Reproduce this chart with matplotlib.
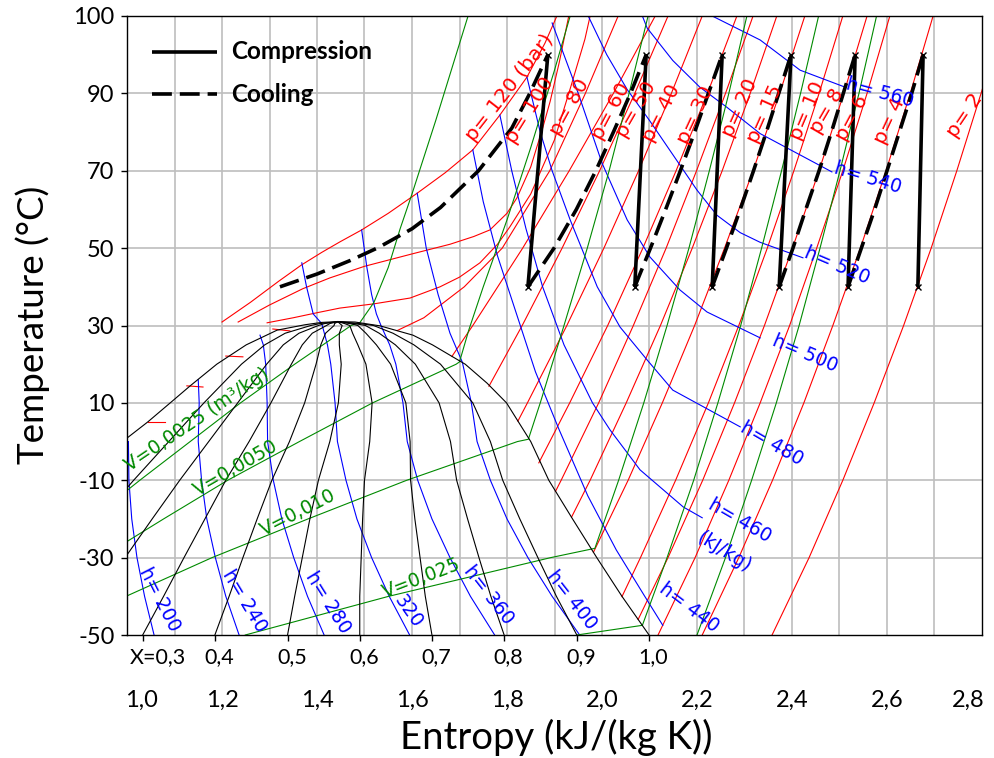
import matplotlib
matplotlib.use("Agg")
import matplotlib.pyplot as plt
from matplotlib.transforms import blended_transform_factory

# ---------------- saturation dome (entropy kJ/(kg K), temperature degC)
dome_s = [1.0, 1.044, 1.091, 1.133, 1.189, 1.251, 1.316, 1.375, 1.41, 1.444,
          1.48, 1.533, 1.602, 1.643, 1.712, 1.758, 1.799, 1.850, 1.888, 1.938,
          1.989, 2.042, 2.099]
dome_T = [0.9, 5.1, 10, 14.4, 20, 25, 28.8, 30.2, 30.8, 31.0,
          30.9, 29.9, 27.5, 25, 20, 15.1, 10, 0, -10, -20,
          -30, -40, -50]

# ---------------- constant quality lines
quality_T = [-50, -40, -30, -20, -10, 0, 10, 20, 25, 28, 30, 30.5, 31]
x01_s = [0.728, 0.801, 0.872, 0.943, 1.014, 1.088, 1.162, 1.241, 1.290, 1.333, 1.387, 1.406, 1.444]
x02_s = [0.881, 0.939, 0.996, 1.053, 1.111, 1.172, 1.233, 1.294, 1.329, 1.362, 1.403, 1.416, 1.444]
x03_s = [1.033, 1.077, 1.120, 1.164, 1.208, 1.257, 1.303, 1.346, 1.369, 1.390, 1.420, 1.427, 1.444]
x04_s = [1.185, 1.215, 1.244, 1.274, 1.305, 1.342, 1.374, 1.398, 1.408, 1.418, 1.436, 1.437, 1.444]
x05_s = [1.338, 1.353, 1.369, 1.385, 1.403, 1.427, 1.445, 1.451, 1.447, 1.447, 1.453, 1.448, 1.444]
x06_s = [1.490, 1.490, 1.493, 1.496, 1.500, 1.511, 1.516, 1.503, 1.486, 1.475, 1.469, 1.458, 1.444]
x07_s = [1.642, 1.628, 1.617, 1.606, 1.597, 1.596, 1.587, 1.555, 1.525, 1.503, 1.486, 1.469, 1.444]
x08_s = [1.794, 1.766, 1.741, 1.717, 1.694, 1.681, 1.657, 1.607, 1.565, 1.531, 1.502, 1.479, 1.444]
x09_s = [1.947, 1.904, 1.865, 1.827, 1.791, 1.765, 1.728, 1.660, 1.604, 1.560, 1.519, 1.490, 1.444]
quality_labels = ["X=0,3", "0,4", "0,5", "0,6", "0,7", "0,8", "0,9", "1,0"]

# ---------------- isobars (bar)
p2_s = [2.358, 2.436, 2.507, 2.573, 2.635, 2.693, 2.747, 2.798, 2.823]
p2_T = [-50, -30, -10, 10, 30, 50, 70, 90, 100]
p4_s = [2.211, 2.288, 2.359, 2.425, 2.486, 2.544, 2.598, 2.649, 2.697]
p4_T = [-50, -30, -10, 10, 30, 50, 70, 90, 110]
p6_s = [2.118, 2.196, 2.267, 2.333, 2.395, 2.452, 2.507, 2.558, 2.606]
p6_T = [-50, -30, -10, 10, 30, 50, 70, 90, 110]
p8_s = [2.076, 2.139, 2.212, 2.279, 2.342, 2.401, 2.457, 2.509, 2.558]
p8_T = [-46, -30, -10, 10, 30, 50, 70, 90, 110]
p10_s = [2.042, 2.081, 2.155, 2.224, 2.288, 2.348, 2.404, 2.457, 2.507]
p10_T = [-40.1, -30, -10, 10, 30, 50, 70, 90, 110]
p15_s = [1.982, 2.055, 2.127, 2.195, 2.258, 2.318, 2.374, 2.427]
p15_T = [-28.6, -10, 10, 30, 50, 70, 90, 110]
p20_s = [1.936, 1.975, 2.051, 2.123, 2.190, 2.253, 2.312, 2.368]
p20_T = [-19.5, -10, 10, 30, 50, 70, 90, 110]
p25_s = [1.902, 1.914, 1.993, 2.066, 2.135, 2.199, 2.260, 2.318]
p25_T = [-12.9, -10, 10, 30, 50, 70, 90, 110]
p30_s = [1.867, 1.932, 2.012, 2.086, 2.156, 2.222, 2.284]
p30_T = [-5.5, 10, 30, 50, 70, 90, 110]
p40_s = [1.823, 1.843, 1.926, 2.004, 2.077, 2.146, 2.211]
p40_T = [5.3, 10, 30, 50, 70, 90, 110]
p50_s = [1.762, 1.832, 1.916, 1.995, 2.069, 2.139]
p50_T = [14.3, 30, 50, 70, 90, 110]
p60_s = [1.684, 1.728, 1.833, 1.931, 2.024, 2.112]
p60_T = [22, 30, 50, 70, 90, 110]
p70_s = [1.569, 1.625, 1.71, 1.79, 1.89, 1.965, 2.034]
p70_T = [28.7, 32, 40, 50, 70, 90, 110]
p80_s = [1.295, 1.35, 1.40, 1.448, 1.52, 1.596, 1.659, 1.70, 1.743, 1.78, 1.806, 1.85, 1.9, 1.935, 1.964, 1.975]
p80_T = [30.7, 32.0, 33.3, 34.5, 35.6, 37.1, 40, 42.5, 46.2, 51, 55.5, 64, 78, 92, 104, 110]
p100_s = [1.234, 1.3, 1.37, 1.427, 1.5, 1.6, 1.68, 1.73, 1.764, 1.80, 1.821, 1.85, 1.875, 1.891, 1.91, 1.93]
p100_T = [30.9, 35.3, 39.5, 42.3, 45.3, 48.5, 51, 53, 54.7, 59, 63, 71, 81, 88, 98, 110]
p120_s = [1.2, 1.26, 1.32, 1.368, 1.41, 1.448, 1.494, 1.55, 1.611, 1.67, 1.728, 1.785, 1.842, 1.88, 1.905]
p120_T = [30.9, 36, 41.5, 45.7, 48.9, 51.6, 54.7, 59, 64.2, 69.5, 75.4, 84.4, 94.2, 103, 110]
# liquid-side stubs of the subcritical isobars 40, 50, 60, 70 bar
liq40_s, liq40_T = [1.044, 1.080], [5.1, 5.1]
liq50_s, liq50_T = [1.126, 1.160], [14.4, 14.1]
liq60_s, liq60_T = [1.208, 1.244], [22.1, 21.9]
liq70_s, liq70_T = [1.307, 1.343], [29.1, 28.6]

# ---------------- isenthalps (kJ/kg)
h200_s = [1.003, 1.004, 1.010, 1.021, 1.037, 1.057]
h200_T = [0, -10, -20, -30, -40, -50]
h240_s = [1.15, 1.152, 1.150, 1.157, 1.168, 1.186, 1.208, 1.236]
h240_T = [16, 10, 0, -10, -20, -30, -40, -50]
h280_s = [1.28, 1.287, 1.292, 1.295, 1.296, 1.308, 1.326, 1.351, 1.380, 1.415]
h280_T = [27.5, 25, 20, 10, 0, -10, -20, -30, -40, -50]
h320_s = [1.368, 1.378, 1.392, 1.41, 1.422, 1.429, 1.438, 1.443, 1.461, 1.484, 1.515, 1.552, 1.595]
h320_T = [46.2, 40, 33, 30.5, 25, 20, 10, 0, -10, -20, -30, -40, -50]
h360_s = [1.494, 1.505, 1.515, 1.525, 1.535, 1.553, 1.566, 1.581, 1.590, 1.612, 1.642, 1.680, 1.723, 1.774]
h360_T = [54.7, 45, 38, 33, 29.9, 25, 20, 10, 0, -10, -20, -30, -40, -50]
h400_s = [1.611, 1.63, 1.655, 1.68, 1.706, 1.725, 1.737, 1.765, 1.800, 1.844, 1.895, 1.953]
h400_T = [64.2, 50, 38, 28, 20.5, 10, 0, -10, -20, -30, -40, -50]
h440_s = [1.728, 1.75, 1.78, 1.82, 1.86, 1.91, 1.97, 2.03, 2.09, 2.128]
h440_T = [75.4, 62, 48, 33, 18, 3, -14, -28, -40, -47.5]
h460_s = [1.785, 1.81, 1.84, 1.875, 1.92, 1.98, 2.017, 2.08, 2.171, 2.211]
h460_T = [84.4, 70, 55, 40, 25, 10, 3, -7.3, -16.9, -19.7]
h480_s = [1.842, 1.87, 1.895, 1.933, 1.99, 2.038, 2.095, 2.149, 2.291]
h480_T = [94.2, 80, 70, 57.3, 40, 29.6, 21.1, 13.3, 3.8]
h500_s = [1.895, 1.95, 2.0, 2.053, 2.101, 2.164, 2.221, 2.333]
h500_T = [108.2, 90, 72, 57.3, 47.7, 39.2, 33.5, 26.8]
h520_s = [1.971, 2.01, 2.053, 2.10, 2.15, 2.20, 2.242, 2.291, 2.333, 2.423]
h520_T = [110, 100, 91, 83, 74, 65, 58.5, 54, 51.5, 47.5]
h540_s = [2.085, 2.095, 2.149, 2.206, 2.263, 2.333, 2.484]
h540_T = [110, 106.9, 98.5, 91.6, 86.4, 79.6, 69.7]
h560_s = [2.232, 2.333, 2.417, 2.512]
h560_T = [110, 103.8, 96, 91.6]

# ---------------- isochores (m3/kg)
v0025_s = [0.925, 1.027, 1.133, 1.239, 1.353, 1.472, 1.49, 1.52, 1.55, 1.575, 1.6, 1.65, 1.718]
v0025_T = [-20, -10, 0, 10, 20, 30, 30.7, 36, 45, 55, 64, 83, 110]
v005_s = [0.945, 1.077, 1.212, 1.363, 1.517, 1.693, 1.70, 1.72, 1.75, 1.8, 1.85, 1.9, 1.933]
v005_T = [-30, -20, -10, 0, 10, 20, 20.6, 29, 40, 57.3, 76, 96, 110]
v010_s = [0.998, 1.179, 1.381, 1.589, 1.822, 1.845, 1.87, 1.92, 1.969, 2.015, 2.057, 2.097]
v010_T = [-40, -30, -20, -10, 0, 0.6, 10, 30, 50, 70, 90, 110]
v025_s = [1.249, 1.551, 1.892, 1.985, 2.035, 2.088, 2.137, 2.183, 2.226, 2.267, 2.305]
v025_T = [-50, -40, -30, -27.6, -10, 10, 30, 50, 70, 90, 110]
v05_s = [1.947, 2.085, 2.137, 2.193, 2.244, 2.292, 2.336, 2.378, 2.418, 2.456]
v05_T = [-50, -47.5, -30, -10, 10, 30, 50, 70, 90, 110]
v1_s = [2.2, 2.26, 2.315, 2.367, 2.415, 2.459, 2.501, 2.541, 2.578]
v1_T = [-50, -30, -10, 10, 30, 50, 70, 90, 110]

# ---------------- compression stages (40 -> 100 degC) and intercooling
comp_s_in = [1.844, 2.069, 2.232, 2.373, 2.518, 2.665]
comp_s_out = [1.886, 2.093, 2.253, 2.398, 2.533, 2.676]
comp_T_in, comp_T_out = 40, 100
cool_T = [40, 50, 60, 70, 80, 90, 100]
cool1_s = [1.322, 1.40, 1.47, 1.53, 1.60, 1.66, 1.74, 1.81, 1.848, 1.886]
cool1_T = [40, 43.3, 46.8, 50.2, 55, 60.5, 70, 81, 90, 100]
cool2_s = [1.844, 1.899, 1.946, 1.987, 2.024, 2.060, 2.093]
cool3_s = [2.069, 2.102, 2.134, 2.165, 2.195, 2.224, 2.253]
cool4_s = [2.232, 2.262, 2.291, 2.319, 2.346, 2.372, 2.398]
cool5_s = [2.373, 2.402, 2.429, 2.457, 2.483, 2.508, 2.533]
cool6_s = [2.518, 2.546, 2.574, 2.600, 2.626, 2.652, 2.676]

# ---------------- axis ticks
T_ticks = [-50, -30, -10, 10, 30, 50, 70, 90, 110]
T_tick_labels = ["-50", "-30", "-10", "10", "30", "50", "70", "90", "100"]
s_labels = ["1,0", "1,2", "1,4", "1,6", "1,8", "2,0", "2,2", "2,4", "2,6", "2,8"]
s_label_pos = [1.03, 1.2, 1.4, 1.6, 1.8, 2.0, 2.2, 2.4, 2.6, 2.77]

RED, BLUE, GREEN = "#FF0000", "#0000FF", "#008A00"
LBL_FONT = "DejaVu Sans"
AX_FONT = "Lato"

fig = plt.figure(figsize=(9.95, 7.58), dpi=100)
ax = fig.add_axes([127 / 995, 1 - 635 / 758, 855 / 995, 619 / 758])
ax.set_xlim(1.0, 2.8)
ax.set_ylim(-50, 110)

# grid
for gx in [1.1 + 0.1 * i for i in range(17)]:
    ax.axvline(gx, color="#BEBEBE", lw=1.2, zorder=0)
for gy in T_ticks[1:-1]:
    ax.axhline(gy, color="#BEBEBE", lw=1.2, zorder=0)

lw = 0.8
# quality lines and dome
quality_lines = [x01_s, x02_s, x03_s, x04_s, x05_s, x06_s, x07_s, x08_s, x09_s]
for xs in quality_lines:
    ax.plot(xs, quality_T, color="black", lw=lw, zorder=3)
ax.plot(dome_s, dome_T, color="black", lw=lw, zorder=3)

# isobars
isobars = [(p2_s, p2_T), (p4_s, p4_T), (p6_s, p6_T), (p8_s, p8_T), (p10_s, p10_T),
           (p15_s, p15_T), (p20_s, p20_T), (p25_s, p25_T), (p30_s, p30_T),
           (p40_s, p40_T), (p50_s, p50_T), (p60_s, p60_T), (p70_s, p70_T),
           (p80_s, p80_T), (p100_s, p100_T), (p120_s, p120_T),
           (liq40_s, liq40_T), (liq50_s, liq50_T), (liq60_s, liq60_T), (liq70_s, liq70_T)]
for s, T in isobars:
    ax.plot(s, T, color=RED, lw=lw, zorder=2)

# isenthalps
for s, T in [(h200_s, h200_T), (h240_s, h240_T), (h280_s, h280_T), (h320_s, h320_T),
             (h360_s, h360_T), (h400_s, h400_T), (h440_s, h440_T), (h460_s, h460_T),
             (h480_s, h480_T), (h500_s, h500_T), (h520_s, h520_T), (h540_s, h540_T),
             (h560_s, h560_T)]:
    ax.plot(s, T, color=BLUE, lw=lw, zorder=2)

# isochores
for s, T in [(v0025_s, v0025_T), (v005_s, v005_T), (v010_s, v010_T),
             (v025_s, v025_T), (v05_s, v05_T), (v1_s, v1_T)]:
    ax.plot(s, T, color=GREEN, lw=lw, zorder=2)

# compression and cooling
for si, so in zip(comp_s_in, comp_s_out):
    ax.plot([si, so], [comp_T_in, comp_T_out], color="black", lw=2.6,
            solid_capstyle="butt", zorder=5, marker="x", markersize=4,
            markeredgewidth=1.0)
dash = (0, (5.5, 2.2))
ax.plot(cool1_s, cool1_T, color="black", lw=2.6, ls=dash, zorder=5)
for cs in [cool2_s, cool3_s, cool4_s, cool5_s, cool6_s]:
    ax.plot(cs, cool_T, color="black", lw=2.6, ls=dash, zorder=5)

# curve labels
def lbl(s, T, text, rot, color, size=13.5):
    ax.text(s, T, text, rotation=rot, color=color, fontsize=size, family=LBL_FONT,
            ha="center", va="center", rotation_mode="anchor", zorder=6)

p_labels = [(1.806, 91.4, "p= 120 (bar)", 52), (1.848, 85.7, "p= 100", 58),
            (1.931, 86.5, "p= 80", 61), (2.019, 85.4, "p= 60", 62),
            (2.072, 85.7, "p= 50", 60), (2.126, 84.9, "p= 40", 63),
            (2.196, 84.4, "p= 30", 65), (2.291, 86.2, "p= 20", 66),
            (2.343, 84.7, "p= 15", 66), (2.432, 85.4, "p= 10", 67),
            (2.474, 85.4, "p= 8", 60), (2.526, 83.6, "p= 6", 62),
            (2.606, 82.9, "p= 4", 65), (2.764, 84.4, "p= 2", 56)]
for s, T, t, r in p_labels:
    lbl(s, T, t, r, RED, 14.5)

h_labels = [(2.585, 90.1, "h= 560", -15), (2.56, 68.1, "h= 540", -17),
            (2.495, 45.6, "h= 520", -23), (2.427, 22.9, "h= 500", -23),
            (2.358, -0.4, "h= 480", -30), (2.291, -20.3, "h= 460", -30),
            (2.257, -28.5, "(kJ/kg)", -32), (2.183, -43, "h= 440", -37),
            (1.937, -40.9, "h= 400", -52), (1.762, -39.7, "h= 360", -52),
            (1.592, -44, "320", -55), (1.423, -41.7, "h= 280", -58),
            (1.248, -41.2, "h= 240", -59), (1.069, -40.9, "h= 200", -63)]
for s, T, t, r in h_labels:
    lbl(s, T, t, r, BLUE)

v_labels = [(1.147, 5.6, "V=0,0025 (m³/kg)", 34), (1.229, -6.8, "V=0,0050", 30),
            (1.36, -18.5, "V=0,010", 27), (1.619, -35.3, "V=0,025", 21)]
for s, T, t, r in v_labels:
    lbl(s, T, t, r, GREEN)

# axes styling
for sp in ax.spines.values():
    sp.set_color("black")
    sp.set_linewidth(1.0)
ax.set_yticks(T_ticks)
ax.set_yticklabels(T_tick_labels, fontsize=17, family=AX_FONT)
q_ticks = [xs[0] for xs in quality_lines[2:]] + [dome_s[-1]]
ax.set_xticks(q_ticks)
ax.set_xticklabels([])
ax.tick_params(axis="both", direction="out", length=4, width=1, color="black")
ax.tick_params(axis="y", pad=5)

tr = blended_transform_factory(ax.transData, ax.transAxes)
for i, (pos, t) in enumerate(zip(q_ticks, quality_labels)):
    off = 0.032 if i == 0 else 0.009
    ax.text(pos + off, -0.036, t, transform=tr, ha="center", va="center",
            fontsize=15.5, family=AX_FONT)
for pos, t in zip(s_label_pos, s_labels):
    ax.text(pos, -0.105, t, transform=tr, ha="center", va="center",
            fontsize=17, family=AX_FONT)

fig.text(33 / 995, 1 - 325 / 758, "Temperature (°C)", fontsize=26.5, family=AX_FONT,
         rotation=90, ha="center", va="center")
fig.text(556 / 995, 1 - 737 / 758, "Entropy (kJ/(kg K))", fontsize=27.5,
         family=AX_FONT, ha="center", va="center")

# legend
leg_y1, leg_y2 = 100.8, 89.8
ax.plot([1.053, 1.19], [leg_y1, leg_y1], color="black", lw=2.6, zorder=7,
        solid_capstyle="butt")
ax.plot([1.053, 1.19], [leg_y2, leg_y2], color="black", lw=2.6, ls=dash, zorder=7)
ax.text(1.22, leg_y1, "Compression", fontsize=17.5, fontweight="bold", family=AX_FONT,
        va="center", ha="left", zorder=7)
ax.text(1.22, leg_y2, "Cooling", fontsize=17.5, fontweight="bold", family=AX_FONT,
        va="center", ha="left", zorder=7)

fig.savefig("out.png", dpi=100)
